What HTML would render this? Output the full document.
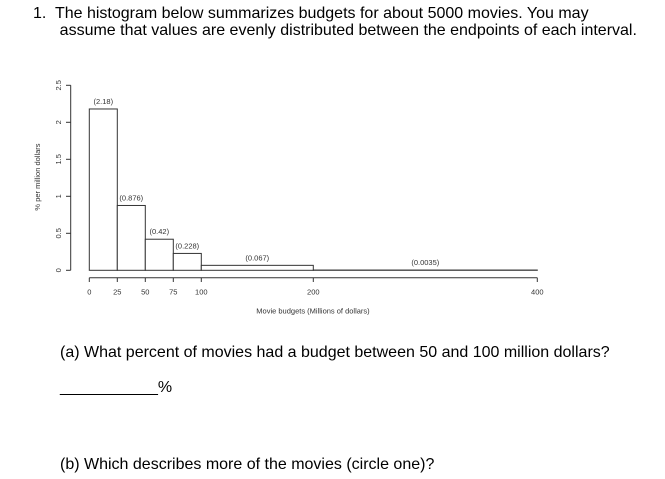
<!DOCTYPE html>
<html><head><meta charset="utf-8">
<style>
body{margin:0;width:665px;height:479px;background:#fff;font-family:"Liberation Sans",Arial,sans-serif;position:relative;overflow:hidden}
.t{position:absolute;font-size:16px;color:#000;white-space:nowrap}
svg{position:absolute;left:0;top:0}
</style></head><body>
<div class="t" style="left:33px;top:5px;line-height:17px">1.&nbsp; The histogram below summarizes budgets for about 5000 movies. You may<br>&nbsp;&nbsp;&nbsp;&nbsp;&nbsp;&nbsp;assume that values are evenly distributed between the endpoints of each interval.</div>
<svg width="665" height="479" id="chart"></svg>
<div class="t" style="left:60px;top:344px">(a) What percent of movies had a budget between 50 and 100 million dollars?</div>
<div class="t" style="left:60px;top:379px">___________%</div>
<div class="t" style="left:60px;top:456px">(b) Which describes more of the movies (circle one)?</div>
<script>
const binEdges=[0,25,50,75,100,200,400];
const heights=[2.18,0.876,0.42,0.228,0.067,0.0035];
const labels=["(2.18)","(0.876)","(0.42)","(0.228)","(0.067)","(0.0035)"];
const xTicks=[0,25,50,75,100,200,400];
const yTicks=[0,0.5,1,1.5,2,2.5];
const svg=document.getElementById('chart');
const NS='http://www.w3.org/2000/svg';
const X=v=>89.3+v*1.12, Y=v=>270.3-v*74;
function mk(t,a,txt){const e=document.createElementNS(NS,t);for(const k in a)e.setAttribute(k,a[k]);if(txt!==undefined)e.textContent=txt;svg.appendChild(e);return e;}
for(let i=0;i<heights.length;i++){
 const r=mk('rect',{x:X(binEdges[i]),y:Y(heights[i]),width:X(binEdges[i+1])-X(binEdges[i]),height:Y(0)-Y(heights[i]),fill:'#fff',stroke:'#333','stroke-width':1});
 
 
 const t=mk('text',{x:(X(binEdges[i])+X(binEdges[i+1]))/2,y:Y(heights[i])-5,'font-size':7.5,'text-anchor':'middle',fill:'#333'},labels[i]);
 
 
}
const ya=mk('line',{x1:70.7,x2:70.7,y1:Y(0),y2:Y(2.5),stroke:'#333'});


yTicks.forEach(v=>{
 mk('line',{x1:66,x2:70.7,y1:Y(v),y2:Y(v),stroke:'#333'});
 const t=mk('text',{x:61,y:Y(v),'font-size':7.5,'text-anchor':'middle',fill:'#333',transform:`rotate(-90 61 ${Y(v)})`},String(v));
 
 
});
const xa=mk('line',{x1:X(0),x2:X(400),y1:277.7,y2:277.7,stroke:'#333'});


xTicks.forEach(v=>{
 mk('line',{x1:X(v),x2:X(v),y1:277.7,y2:282,stroke:'#333'});
 const t=mk('text',{x:X(v),y:294.5,'font-size':7.5,'text-anchor':'middle',fill:'#333'},String(v));
 
 
});
const xt=mk('text',{x:313,y:313.5,'font-size':7.5,'text-anchor':'middle',fill:'#333'},'Movie budgets (Millions of dollars)');


const yt=mk('text',{x:40,y:177,'font-size':7.5,'text-anchor':'middle',fill:'#333',transform:'rotate(-90 40 177)'},'% per million dollars');


</script>
</body></html>
